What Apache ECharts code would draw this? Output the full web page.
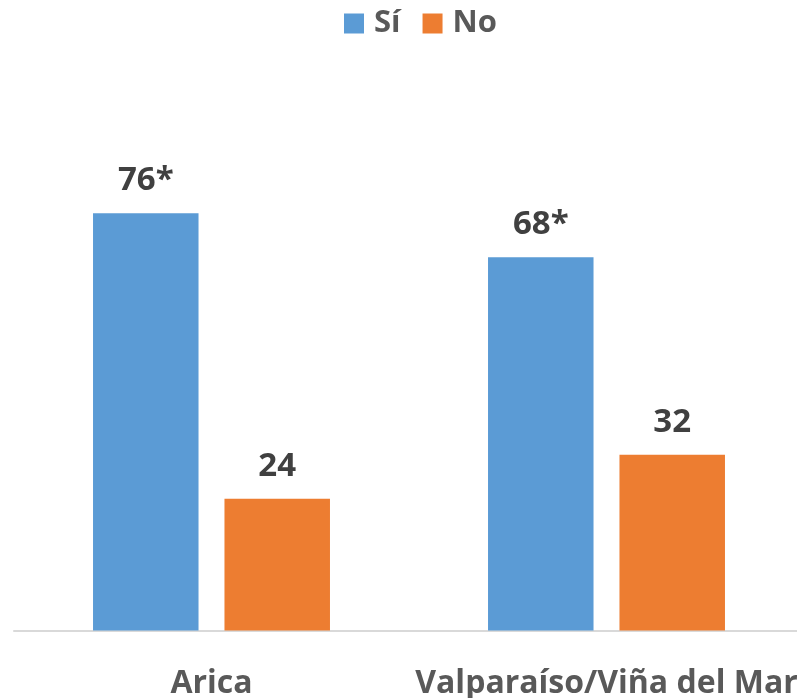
<!DOCTYPE html>
<html>
<head>
<meta charset="utf-8">
<script src="https://cdn.jsdelivr.net/npm/echarts@6/dist/echarts.min.js"></script>
<style>
html,body{margin:0;padding:0;background:#fff;}
#chart{width:797px;height:698px;}
</style>
</head>
<body>
<div id="chart"></div>
<script>
const categories = ['Arica', 'Valparaíso/Viña del Mar'];
const seriesNames = ['Sí', 'No'];
const siValues = [76, 68];
const noValues = [24, 32];
const siLabels = ['76*', '68*'];
const noLabels = ['24', '32'];

const FONT = '"Open Sans", sans-serif';
const chart = echarts.init(document.getElementById('chart'), null, {renderer: 'canvas'});

function labelCfg(texts) {
  return {
    show: true,
    position: 'top',
    distance: 16,
    formatter: p => texts[p.dataIndex],
    fontFamily: FONT,
    fontWeight: 'bold',
    fontSize: 33,
    color: '#404040'
  };
}

chart.setOption({
  animation: false,
  backgroundColor: '#ffffff',
  legend: {
    data: seriesNames,
    top: 3,
    left: 339,
    itemWidth: 20,
    itemHeight: 20,
    itemGap: 22,
    icon: 'rect',
    textStyle: {
      fontFamily: FONT,
      fontWeight: 'bold',
      fontSize: 31,
      color: '#595959',
      padding: [0, 0, 0, 5]
    }
  },
  grid: {
    left: 14,
    right: -7,
    top: 81.5,
    bottom: 67.5,
    containLabel: false,
    outerBoundsMode: 'none'
  },
  xAxis: {
    type: 'category',
    data: categories,
    axisLine: {show: true, lineStyle: {color: '#D9D9D9', width: 2}},
    axisTick: {show: false},
    axisLabel: {
      margin: 37,
      fontFamily: FONT,
      fontWeight: 'bold',
      fontSize: 32,
      color: '#595959',
      interval: 0
    }
  },
  yAxis: {
    type: 'value',
    min: 0,
    max: 100,
    show: false,
    splitLine: {show: false}
  },
  series: [
    {
      name: seriesNames[0],
      type: 'bar',
      data: siValues,
      barWidth: 105.5,
      barGap: '24.6%',
      itemStyle: {color: '#5B9BD5'},
      label: labelCfg(siLabels)
    },
    {
      name: seriesNames[1],
      type: 'bar',
      data: noValues,
      barWidth: 105.5,
      barGap: '24.6%',
      itemStyle: {color: '#ED7D31'},
      label: labelCfg(noLabels)
    }
  ]
});
</script>
</body>
</html>
